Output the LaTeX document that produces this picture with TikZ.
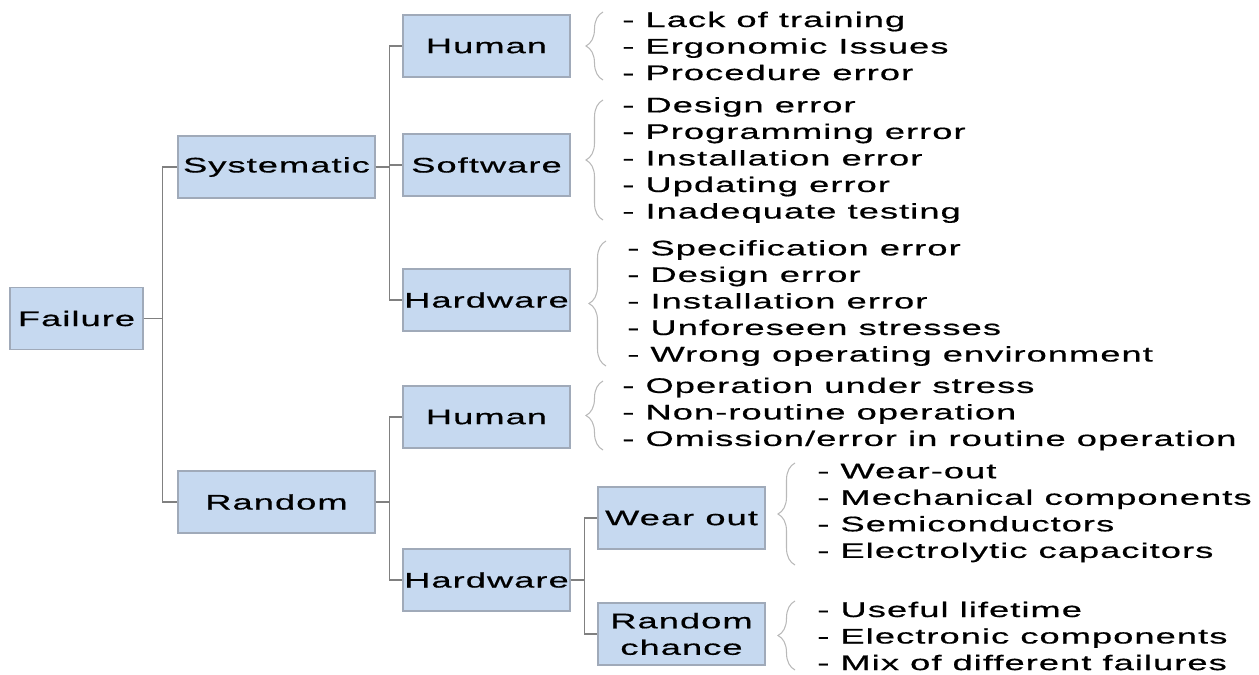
\documentclass[tikz,border=0pt]{standalone}
\usepackage{fontspec}
\setmainfont{Liberation Sans}[FakeStretch=1.72,LetterSpace=5,FakeBold=0.6]
\usetikzlibrary{calc,decorations.pathreplacing}
\definecolor{boxfill}{RGB}{198,217,240}
\definecolor{boxline}{RGB}{160,170,185}
\definecolor{linkgray}{RGB}{128,128,128}
\definecolor{bracegray}{RGB}{185,185,185}

\begin{document}
\begin{tikzpicture}[x=0.02cm, y=-0.02cm,
    box/.style={draw=boxline, fill=boxfill, line width=0.6pt, minimum width=3.34cm,
        minimum height=1.24cm, inner sep=0pt, align=center,
        font=\fontsize{12}{15.1}\selectfont},
    link/.style={draw=linkgray, line width=0.7pt},
    cbrace/.style={draw=bracegray, line width=0.6pt, decorate,
        decoration={brace, amplitude=0.34cm, aspect=0.5}},
    items/.style={anchor=west, align=left, inner sep=0pt,
        font=\fontsize{12}{15.1}\selectfont}]
    \useasboundingbox (0,0) rectangle (1259,675);

    % tree boxes
    \node[box, minimum width=2.66cm] (fail) at (76.5,318.5) {Failure};
    \node[box, minimum width=3.94cm] (sys) at (276.5,167) {Systematic};
    \node[box, minimum width=3.94cm] (rnd) at (276.5,502) {Random};
    \node[box] (shum) at (486.5,46) {Human};
    \node[box] (ssw) at (486.5,165) {Software};
    \node[box] (shw) at (486.5,300) {Hardware};
    \node[box] (rhum) at (486.5,417) {Human};
    \node[box] (rhw) at (486.5,580) {Hardware};
    \node[box] (wear) at (681.5,518) {Wear out};
    \node[box] (chance) at (681.5,634) {Random\\chance};

    % links
    \draw[link] (fail.east) -- +(19,0) |- (sys.west);
    \draw[link] (fail.east) -- +(19,0) |- (rnd.west);
    \draw[link] (sys.east) -- +(14,0) |- (shum.west);
    \draw[link] (sys.east) -- +(14,0) |- (ssw.west);
    \draw[link] (sys.east) -- +(14,0) |- (shw.west);
    \draw[link] (rnd.east) -- +(14,0) |- (rhum.west);
    \draw[link] (rnd.east) -- +(14,0) |- (rhw.west);
    \draw[link] (rhw.east) -- +(14,0) |- (wear.west);
    \draw[link] (rhw.east) -- +(14,0) |- (chance.west);

    % braces
    \draw[cbrace] (603,80) -- (603,12);
    \draw[cbrace] (603,220) -- (603,100);
    \draw[cbrace] (606,366) -- (606,241);
    \draw[cbrace] (603,450) -- (603,381);
    \draw[cbrace] (795,565) -- (795,463);
    \draw[cbrace] (795,670) -- (795,601);

    % item lists
    \node[items] (lhum) at (622,46) {- Lack of training\\- Ergonomic Issues\\- Procedure error};
    \node[items] (lsw) at (622,160) {- Design error\\- Programming error\\- Installation error\\- Updating error\\- Inadequate testing};
    \node[items] (lhw) at (627,303) {- Specification error\\- Design error\\- Installation error\\- Unforeseen stresses\\- Wrong operating environment};
    \node[items] (lrhum) at (622,414) {- Operation under stress\\- Non-routine operation\\- Omission/error in routine operation};
    \node[items] (lwear) at (817,513) {- Wear-out\\- Mechanical components\\- Semiconductors\\- Electrolytic capacitors};
    \node[items] (lchance) at (817,636) {- Useful lifetime\\- Electronic components\\- Mix of different failures};
\end{tikzpicture}
\end{document}
